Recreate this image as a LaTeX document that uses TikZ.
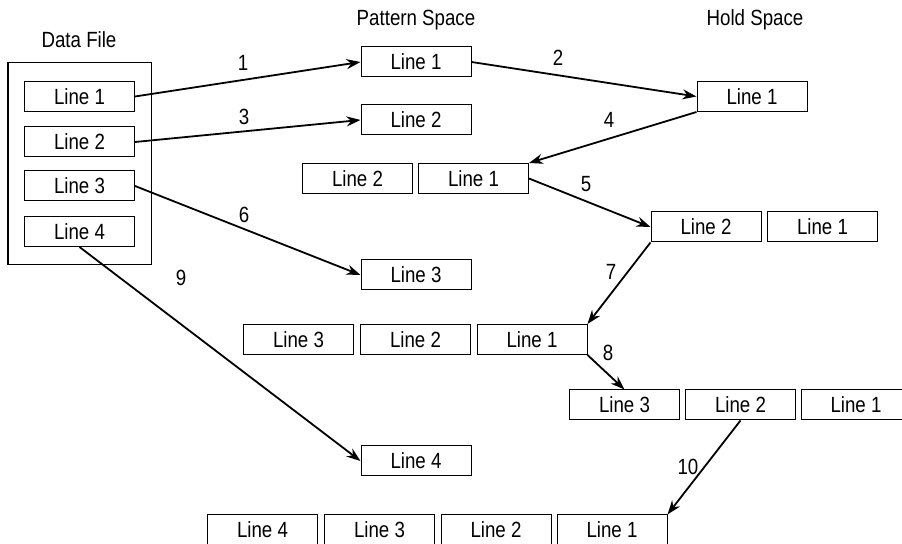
\documentclass[tikz,border=0pt]{standalone}
\usepackage{fontspec}
\setmainfont[FakeStretch=0.85]{Liberation Sans}
\usetikzlibrary{arrows.meta}

\tikzset{
  linebox/.style={draw, line width=0.5pt, minimum width=55pt, minimum height=15pt, inner sep=0pt, font=\fontsize{11}{13}\selectfont},
  flow/.style={-{Stealth[length=7pt,width=5pt]}, line width=0.9pt},
  steplabel/.style={font=\fontsize{11}{13}\selectfont, inner sep=1pt}
}

\begin{document}
\begin{tikzpicture}[x=0.5pt, y=-0.5pt]
\useasboundingbox (0,0) rectangle (902,544);

% Titles
\node[steplabel] (tdata) at (79,40) {Data File};
\node[steplabel] (tpat) at (416,20) {Pattern Space};
\node[steplabel] (thold) at (755,20) {Hold Space};

% Data file
\draw[line width=0.5pt] (8,63) rectangle (151,265);
\node[linebox] (d1) at (79.5,96.5) {Line 1};
\node[linebox] (d2) at (79.5,142) {Line 2};
\node[linebox] (d3) at (79.5,186) {Line 3};
\node[linebox] (d4) at (79.5,231.5) {Line 4};

% Pattern space
\node[linebox] (p1) at (416,62) {Line 1};
\node[linebox] (p2) at (416,120) {Line 2};
\node[linebox] (ra2) at (357.5,178.5) {Line 2};
\node[linebox] (ra1) at (473.5,178.5) {Line 1};
\node[linebox] (p3) at (416,275) {Line 3};
\node[linebox] (rc3) at (298.5,339.5) {Line 3};
\node[linebox] (rc2) at (415.5,339.5) {Line 2};
\node[linebox] (rc1) at (532,339.5) {Line 1};
\node[linebox] (p4) at (416,461) {Line 4};
\node[linebox] (rd4) at (262.5,530) {Line 4};
\node[linebox] (rd3) at (379.5,530) {Line 3};
\node[linebox] (rd2) at (496,530) {Line 2};
\node[linebox] (rd1) at (612,530) {Line 1};

% Hold space
\node[linebox] (h1) at (752,96.5) {Line 1};
\node[linebox] (hb2) at (706,227) {Line 2};
\node[linebox] (hb1) at (822.5,227) {Line 1};
\node[linebox] (hc3) at (624.5,405) {Line 3};
\node[linebox] (hc2) at (740.5,405) {Line 2};
\node[linebox] (hc1) at (856,405) {Line 1};

% Steps
\draw[flow] (d1.east) -- (p1.west);
\draw[flow] (p1.east) -- (h1.west);
\draw[flow] (d2.east) -- (p2.west);
\draw[flow] (h1.south west) -- (ra1.north east);
\draw[flow] (ra1.east) -- (hb2.west);
\draw[flow] (d3.east) -- (p3.west);
\draw[flow] (hb2.south west) -- (rc1.north east);
\draw[flow] (rc1.south east) -- (hc3.north);
\draw[flow] (d4.south) -- (p4.west);
\draw[flow] (hc2.south) -- (rd1.north east);

% Step numbers
\node[steplabel] (n1) at (243,63) {1};
\node[steplabel] (n2) at (558,58) {2};
\node[steplabel] (n3) at (244,117) {3};
\node[steplabel] (n4) at (609,120) {4};
\node[steplabel] (n5) at (586,184) {5};
\node[steplabel] (n6) at (244,215) {6};
\node[steplabel] (n7) at (611,272) {7};
\node[steplabel] (n8) at (608,353) {8};
\node[steplabel] (n9) at (181,278) {9};
\node[steplabel] (n10) at (688,467) {10};

\end{tikzpicture}
\end{document}
